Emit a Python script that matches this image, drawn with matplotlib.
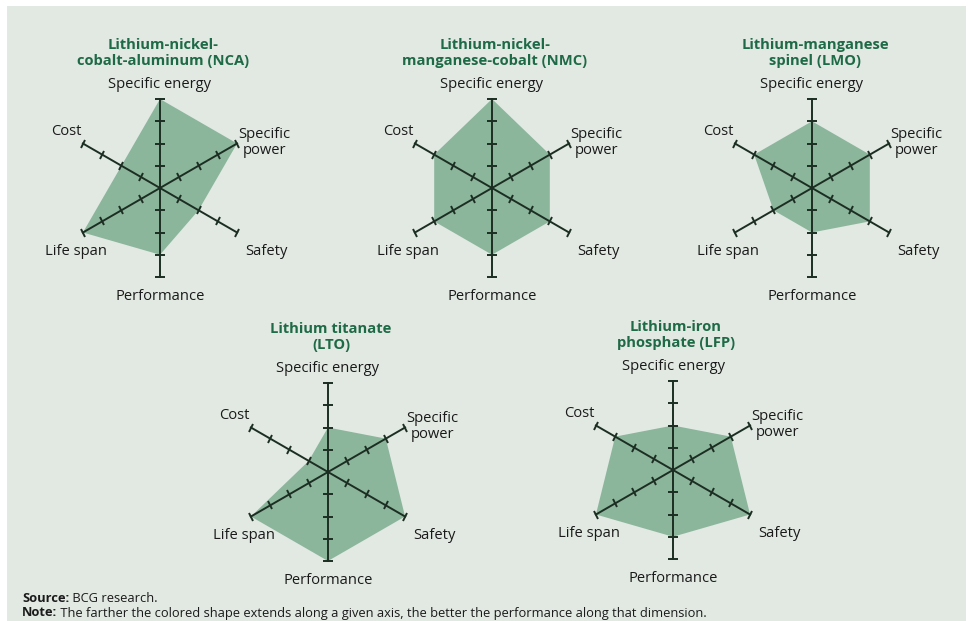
import numpy as np
import matplotlib.pyplot as plt
from matplotlib.markers import MarkerStyle
from matplotlib.transforms import Affine2D
from matplotlib.patches import Rectangle

plt.rcParams['font.family'] = ['Open Sans', 'DejaVu Sans']

# axis order: clockwise from the top
dimensions = ["Specific energy", "Specific\npower", "Safety", "Performance", "Life span", "Cost"]
angles_deg = [90, 30, -30, -90, -150, 150]

titles = [
    "Lithium-nickel-\ncobalt-aluminum (NCA)",
    "Lithium-nickel-\nmanganese-cobalt (NMC)",
    "Lithium-manganese\nspinel (LMO)",
    "Lithium titanate\n(LTO)",
    "Lithium-iron\nphosphate (LFP)",
]
nca = [4, 4, 2, 3, 4, 2]
nmc = [4, 3, 3, 3, 3, 3]
lmo = [3, 3, 3, 2, 2, 3]
lto = [2, 3, 4, 4, 4, 1]
lfp = [2, 3, 4, 3, 4, 3]
scores = [nca, nmc, lmo, lto, lfp]
scale_max = 4

W, H = 968, 621
BG = "#e1e9e2"
FILL = "#8cb69c"
SPOKE = "#1c2e22"
TITLE = "#1f6a46"

# chart centres in pixels (from top-left) and spoke length
centres = [(160, 188), (492, 188), (812, 188), (328, 472), (673, 470)]
radius = 89

# label offsets in pixels from each spoke end
label_pos = [
    ((0, 14), "center", "center"),
    ((1, 1), "left", "center"),
    ((8, -19), "left", "center"),
    ((0, -20), "center", "center"),
    ((-7, -19), "center", "center"),
    ((-1, 12), "right", "center"),
]

fig = plt.figure(figsize=(W / 100, H / 100), dpi=100)
fig.patches.append(Rectangle((7 / W, 0), 959 / W, 615 / H, transform=fig.transFigure,
                             facecolor=BG, edgecolor="none", zorder=-5))

theta = np.deg2rad(angles_deg)

for (cx, cy), title, vals in zip(centres, titles, scores):
    ax = fig.add_axes([(cx - radius) / W, (H - cy - radius) / H, 2 * radius / W, 2 * radius / H],
                      projection="polar")
    ax.set_theta_zero_location("E")
    ax.set_ylim(0, scale_max)
    ax.axis("off")
    ax.patch.set_alpha(0)

    t = np.append(theta, theta[0])
    v = np.append(vals, vals[0])
    ax.fill(t, v, color=FILL, lw=0, zorder=1, clip_on=False)

    for ang, th in zip(angles_deg, theta):
        ax.plot([th, th], [0, scale_max], color=SPOKE, lw=1.4, zorder=2, clip_on=False)
        mk = MarkerStyle("_", transform=Affine2D().rotate_deg(ang - 90))
        ax.plot([th] * scale_max, np.arange(1, scale_max + 1), ls="none", marker=mk,
                ms=7, mew=1.4, color=SPOKE, zorder=3, clip_on=False)

    for name, th, (off, ha, va) in zip(dimensions, theta, label_pos):
        ax.annotate(name, xy=(th, scale_max), xytext=off, textcoords="offset pixels",
                    ha=ha, va=va, multialignment="center", fontsize=10.6, color="#1a1a1a",
                    linespacing=1.15, annotation_clip=False)

    # title sits above the "Specific energy" label
    ax.annotate(title, xy=(np.pi / 2, scale_max), xytext=(3, 46), textcoords="offset pixels",
                ha="center", va="center", fontsize=10.6, fontweight="bold", color=TITLE,
                linespacing=1.1, annotation_clip=False)

# footer: bold lead-in followed by regular text
renderer = fig.canvas.get_renderer()
footer = [("Source:", " BCG research.", 599),
          ("Note:", " The farther the colored shape extends along a given axis, the better the "
                    "performance along that dimension.", 613)]
for lead, rest, y in footer:
    t1 = fig.text(22 / W, (H - y) / H, lead, fontsize=9.3, fontweight="bold",
                  color="#1a1a1a", va="center")
    x1 = t1.get_window_extent(renderer).x1
    fig.text(x1 / W, (H - y) / H, rest, fontsize=9.3, color="#1a1a1a", va="center")

fig.savefig("out.png", dpi=100, facecolor="white")
